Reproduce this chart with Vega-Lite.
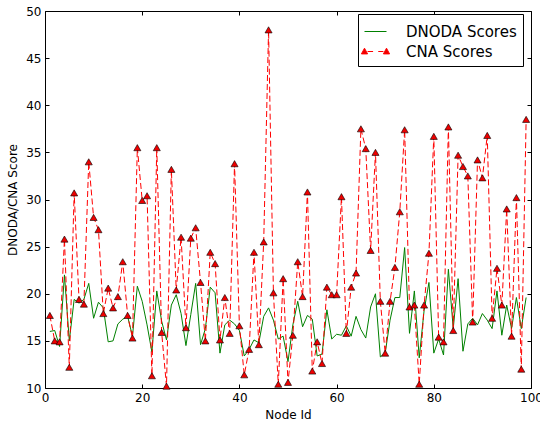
{
  "$schema": "https://vega.github.io/schema/vega-lite/v6.json",
  "width": 486,
  "height": 377,
  "autosize": {"type": "none"},
  "padding": {"left": 45, "top": 11, "right": 9, "bottom": 34},
  "background": "white",
  "config": {
    "font": "DejaVu Sans",
    "view": {"stroke": "black", "strokeWidth": 1},
    "axis": {
      "grid": false,
      "domain": false,
      "tickColor": "black",
      "tickSize": -4,
      "tickWidth": 1,
      "labelColor": "black",
      "labelFont": "DejaVu Sans",
      "labelFontSize": 12,
      "titleFont": "DejaVu Sans",
      "titleFontSize": 12,
      "titleFontWeight": "normal",
      "titleColor": "black"
    }
  },
  "datasets": {
    "dnoda": [
      {"node": 1, "score": 16.0}, {"node": 2, "score": 16.1}, {"node": 3, "score": 14.4}, {"node": 4, "score": 22.0}, {"node": 5, "score": 15.0},
      {"node": 6, "score": 19.4}, {"node": 7, "score": 19.0}, {"node": 8, "score": 19.4}, {"node": 9, "score": 21.1}, {"node": 10, "score": 17.4},
      {"node": 11, "score": 19.1}, {"node": 12, "score": 18.5}, {"node": 13, "score": 14.9}, {"node": 14, "score": 15.0}, {"node": 15, "score": 16.8},
      {"node": 16, "score": 17.3}, {"node": 17, "score": 17.6}, {"node": 18, "score": 15.5}, {"node": 19, "score": 20.8}, {"node": 20, "score": 19.2},
      {"node": 21, "score": 16.7}, {"node": 22, "score": 13.8}, {"node": 23, "score": 20.3}, {"node": 24, "score": 17.1}, {"node": 25, "score": 15.1},
      {"node": 26, "score": 18.8}, {"node": 27, "score": 19.9}, {"node": 28, "score": 17.9}, {"node": 29, "score": 14.5}, {"node": 30, "score": 17.8},
      {"node": 31, "score": 21.1}, {"node": 32, "score": 14.6}, {"node": 33, "score": 16.3}, {"node": 34, "score": 20.7}, {"node": 35, "score": 20.1},
      {"node": 36, "score": 13.7}, {"node": 37, "score": 16.7}, {"node": 38, "score": 17.2}, {"node": 39, "score": 16.8}, {"node": 40, "score": 16.1},
      {"node": 41, "score": 13.4}, {"node": 42, "score": 14.1}, {"node": 43, "score": 15.1}, {"node": 44, "score": 14.8}, {"node": 45, "score": 17.6},
      {"node": 46, "score": 18.5}, {"node": 47, "score": 17.2}, {"node": 48, "score": 15.2}, {"node": 49, "score": 15.5}, {"node": 50, "score": 12.8},
      {"node": 51, "score": 16.7}, {"node": 52, "score": 19.2}, {"node": 53, "score": 16.5}, {"node": 54, "score": 17.7}, {"node": 55, "score": 17.3},
      {"node": 56, "score": 13.4}, {"node": 57, "score": 13.6}, {"node": 58, "score": 18.3}, {"node": 59, "score": 15.2}, {"node": 60, "score": 15.7},
      {"node": 61, "score": 15.6}, {"node": 62, "score": 16.6}, {"node": 63, "score": 15.5}, {"node": 64, "score": 17.6}, {"node": 65, "score": 16.2},
      {"node": 66, "score": 15.3}, {"node": 67, "score": 18.6}, {"node": 68, "score": 20.0}, {"node": 69, "score": 13.3}, {"node": 70, "score": 13.7},
      {"node": 71, "score": 17.2}, {"node": 72, "score": 19.6}, {"node": 73, "score": 19.6}, {"node": 74, "score": 24.9}, {"node": 75, "score": 15.8},
      {"node": 76, "score": 20.3}, {"node": 77, "score": 13.2}, {"node": 78, "score": 18.2}, {"node": 79, "score": 21.2}, {"node": 80, "score": 13.7},
      {"node": 81, "score": 15.2}, {"node": 82, "score": 13.5}, {"node": 83, "score": 22.6}, {"node": 84, "score": 16.3}, {"node": 85, "score": 21.6},
      {"node": 86, "score": 13.9}, {"node": 87, "score": 16.8}, {"node": 88, "score": 17.4}, {"node": 89, "score": 16.7}, {"node": 90, "score": 17.9},
      {"node": 91, "score": 17.2}, {"node": 92, "score": 16.3}, {"node": 93, "score": 20.3}, {"node": 94, "score": 15.6}, {"node": 95, "score": 18.8},
      {"node": 96, "score": 16.3}, {"node": 97, "score": 19.6}, {"node": 98, "score": 16.3}, {"node": 99, "score": 19.6}
    ],
    "cna": [
      {"node": 1, "score": 17.7}, {"node": 2, "score": 15.0}, {"node": 3, "score": 14.9}, {"node": 4, "score": 25.8}, {"node": 5, "score": 12.2},
      {"node": 6, "score": 30.7}, {"node": 7, "score": 19.4}, {"node": 8, "score": 18.9}, {"node": 9, "score": 34.0}, {"node": 10, "score": 28.1},
      {"node": 11, "score": 26.8}, {"node": 12, "score": 17.9}, {"node": 13, "score": 20.6}, {"node": 14, "score": 18.5}, {"node": 15, "score": 19.7},
      {"node": 16, "score": 23.4}, {"node": 17, "score": 17.7}, {"node": 18, "score": 15.3}, {"node": 19, "score": 35.5}, {"node": 20, "score": 29.9},
      {"node": 21, "score": 30.4}, {"node": 22, "score": 11.3}, {"node": 23, "score": 35.5}, {"node": 24, "score": 15.9}, {"node": 25, "score": 10.2},
      {"node": 26, "score": 33.2}, {"node": 27, "score": 20.4}, {"node": 28, "score": 26.0}, {"node": 29, "score": 16.4}, {"node": 30, "score": 25.9},
      {"node": 31, "score": 27.0}, {"node": 32, "score": 21.2}, {"node": 33, "score": 15.0}, {"node": 34, "score": 24.4}, {"node": 35, "score": 23.2},
      {"node": 36, "score": 15.1}, {"node": 37, "score": 19.6}, {"node": 38, "score": 15.8}, {"node": 39, "score": 33.8}, {"node": 40, "score": 16.6},
      {"node": 41, "score": 11.4}, {"node": 42, "score": 14.1}, {"node": 43, "score": 24.4}, {"node": 44, "score": 14.6}, {"node": 45, "score": 25.5},
      {"node": 46, "score": 48.0}, {"node": 47, "score": 20.1}, {"node": 48, "score": 10.4}, {"node": 49, "score": 21.6}, {"node": 50, "score": 10.6},
      {"node": 51, "score": 15.6}, {"node": 52, "score": 23.4}, {"node": 53, "score": 19.7}, {"node": 54, "score": 30.8}, {"node": 55, "score": 11.8},
      {"node": 56, "score": 14.9}, {"node": 57, "score": 12.6}, {"node": 58, "score": 20.7}, {"node": 59, "score": 19.9}, {"node": 60, "score": 19.9},
      {"node": 61, "score": 30.3}, {"node": 62, "score": 15.8}, {"node": 63, "score": 20.7}, {"node": 64, "score": 22.2}, {"node": 65, "score": 37.5},
      {"node": 66, "score": 35.4}, {"node": 67, "score": 24.6}, {"node": 68, "score": 35.0}, {"node": 69, "score": 19.2}, {"node": 70, "score": 13.7},
      {"node": 71, "score": 19.2}, {"node": 72, "score": 22.8}, {"node": 73, "score": 28.7}, {"node": 74, "score": 37.4}, {"node": 75, "score": 18.6},
      {"node": 76, "score": 18.8}, {"node": 77, "score": 10.4}, {"node": 78, "score": 18.8}, {"node": 79, "score": 24.3}, {"node": 80, "score": 36.7},
      {"node": 81, "score": 15.4}, {"node": 82, "score": 14.9}, {"node": 83, "score": 37.7}, {"node": 84, "score": 16.1}, {"node": 85, "score": 34.7},
      {"node": 86, "score": 33.5}, {"node": 87, "score": 32.5}, {"node": 88, "score": 17.0}, {"node": 89, "score": 34.2}, {"node": 90, "score": 32.3},
      {"node": 91, "score": 36.8}, {"node": 92, "score": 17.4}, {"node": 93, "score": 22.7}, {"node": 94, "score": 18.8}, {"node": 95, "score": 29.0},
      {"node": 96, "score": 15.5}, {"node": 97, "score": 30.2}, {"node": 98, "score": 12.0}, {"node": 99, "score": 38.5}
    ]
  },
  "resolve": {"axis": {"x": "independent", "y": "independent"}},
  "layer": [
    {
      "data": {"name": "dnoda"},
      "mark": {"type": "line", "strokeWidth": 1, "clip": true},
      "encoding": {
        "x": {"field": "node", "type": "quantitative", "scale": {"domain": [0, 100], "nice": false, "zero": false},
              "axis": {"orient": "bottom", "values": [0, 20, 40, 60, 80, 100], "title": "Node Id", "labelPadding": 8, "titlePadding": 6, "labelFlush": false}},
        "y": {"field": "score", "type": "quantitative", "scale": {"domain": [10, 50], "nice": false, "zero": false},
              "axis": {"orient": "left", "values": [10, 15, 20, 25, 30, 35, 40, 45, 50], "title": "DNODA/CNA Score", "labelPadding": 8, "titlePadding": 6}},
        "color": {"datum": "DNODA Scores", "type": "nominal",
                  "scale": {"domain": ["DNODA Scores", "CNA Scores"], "range": ["#008000", "#ff0000"]},
                  "legend": {
                    "title": null, "orient": "none", "legendX": 313, "legendY": 3,
                    "direction": "vertical",
                    "strokeColor": "black", "fillColor": "white", "padding": 6, "cornerRadius": 0,
                    "symbolType": "stroke", "symbolSize": 484, "symbolStrokeWidth": 1,
                    "labelFont": "DejaVu Sans", "labelFontSize": 15, "labelColor": "black", "labelOffset": 19,
                    "rowPadding": 0,
                    "encode": {
                      "symbols": {"update": {
                        "shape": {"signal": "datum.value === 'CNA Scores' ? 'M-1,-0.3L-1.28,0.22L-1.28,0.22L-0.72,0.22Z M1,-0.3L0.72,0.22L1.28,0.22Z M-0.72,0L-0.22,0 M0.25,0L0.72,0' : 'stroke'"},
                        "fill": {"signal": "datum.value === 'CNA Scores' ? '#ee0000' : 'transparent'"},
                        "stroke": {"signal": "datum.value === 'CNA Scores' ? '#ff0000' : '#008000'"}
                      }}
                    }
                  }}
      }
    },
    {
      "data": {"name": "cna"},
      "mark": {"type": "line", "strokeWidth": 1, "strokeDash": [6, 3], "clip": true},
      "encoding": {
        "x": {"field": "node", "type": "quantitative",
              "axis": {"orient": "top", "values": [0, 20, 40, 60, 80, 100], "labels": false, "title": null}},
        "y": {"field": "score", "type": "quantitative",
              "axis": {"orient": "right", "values": [10, 15, 20, 25, 30, 35, 40, 45, 50], "labels": false, "title": null}},
        "color": {"datum": "CNA Scores", "type": "nominal"}
      }
    },
    {
      "data": {"name": "cna"},
      "mark": {"type": "point", "shape": "triangle-up", "size": 50, "filled": true, "fill": "#ee0000", "stroke": "black", "strokeWidth": 0.6, "opacity": 1},
      "encoding": {
        "x": {"field": "node", "type": "quantitative", "axis": null},
        "y": {"field": "score", "type": "quantitative", "axis": null}
      }
    }
  ]
}
